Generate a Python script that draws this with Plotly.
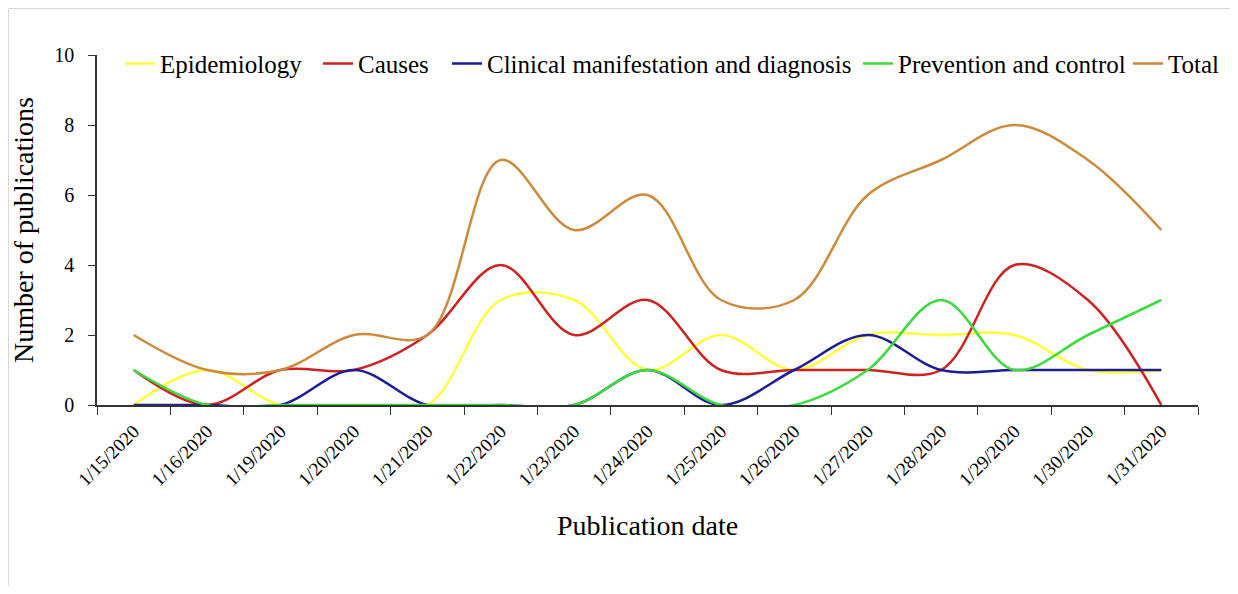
import plotly.graph_objects as go

dates = ["1/15/2020", "1/16/2020", "1/19/2020", "1/20/2020", "1/21/2020", "1/22/2020",
         "1/23/2020", "1/24/2020", "1/25/2020", "1/26/2020", "1/27/2020", "1/28/2020",
         "1/29/2020", "1/30/2020", "1/31/2020"]
epidemiology = [0, 1, 0, 0, 0, 3, 3, 1, 2, 1, 2, 2, 2, 1, 1]
causes = [1, 0, 1, 1, 2, 4, 2, 3, 1, 1, 1, 1, 4, 3, 0]
clinical = [0, 0, 0, 1, 0, 0, 0, 1, 0, 1, 2, 1, 1, 1, 1]
prevention = [1, 0, 0, 0, 0, 0, 0, 1, 0, 0, 1, 3, 1, 2, 3]
total = [2, 1, 1, 2, 2, 7, 5, 6, 3, 3, 6, 7, 8, 7, 5]

series = [
    ("Epidemiology", epidemiology, "#ffff3c"),
    ("Causes", causes, "#cc2222"),
    ("Clinical manifestation and diagnosis", clinical, "#1c1c96"),
    ("Prevention and control", prevention, "#3ddc3d"),
    ("Total", total, "#cc8a3a"),
]

FONT = "Liberation Serif"
W, H = 1222, 578
L, R, T, B = 89, 1190, 47, 397  # plot area edges in figure pixels
# left edge of each legend entry box, in figure pixels
legend_left = [112, 310, 439, 850, 1120]

fig = go.Figure()
legend_layouts = {}
for i, (name, vals, col) in enumerate(series):
    key = "legend" if i == 0 else f"legend{i + 1}"
    fig.add_trace(go.Scatter(
        x=dates, y=vals, name=name, mode="lines", legend=key,
        line=dict(color=col, width=2.5, shape="spline", smoothing=1.0),
    ))
    legend_layouts[key] = dict(
        orientation="h", x=(legend_left[i] - L) / (R - L), y=1.041,
        xanchor="left", yanchor="top",
        font=dict(family=FONT, size=25), bgcolor="rgba(0,0,0,0)",
        itemwidth=30, tracegroupgap=0,
    )

fig.update_layout(
    width=W, height=H,
    margin=dict(l=L, r=W - R, t=T, b=H - B, autoexpand=False),
    plot_bgcolor="white", paper_bgcolor="white",
    font=dict(family=FONT, color="black", size=19),
    showlegend=True,
    xaxis=dict(
        type="category", range=[-0.5, 14.5], tickangle=-45, showgrid=False, showline=True,
        linecolor="#333", linewidth=1.5, ticks="outside", tickson="boundaries",
        ticklen=8, tickcolor="#333", tickfont=dict(family=FONT, size=19), automargin=False,
        ticklabelstandoff=6,
        title=dict(text="Publication date", font=dict(family=FONT, size=28), standoff=26),
    ),
    yaxis=dict(
        range=[0, 10], dtick=2, showgrid=False, showline=True, zeroline=False,
        linecolor="#333", linewidth=1.5, ticks="outside", ticklen=7, tickcolor="#333",
        tickfont=dict(family=FONT, size=20), automargin=False, ticklabelstandoff=10,
        title=dict(text="Number of publications", font=dict(family=FONT, size=28), standoff=12),
    ),
    shapes=[dict(type="rect", xref="paper", yref="paper",
                 x0=(0.5 - L) / (R - L), x1=(W + 20 - L) / (R - L),
                 y0=(B - H - 20) / (B - T), y1=(B - 0.5) / (B - T),
                 line=dict(color="#d8d8d8", width=1), layer="below")],
    **legend_layouts,
)

fig.write_html("out.html")
